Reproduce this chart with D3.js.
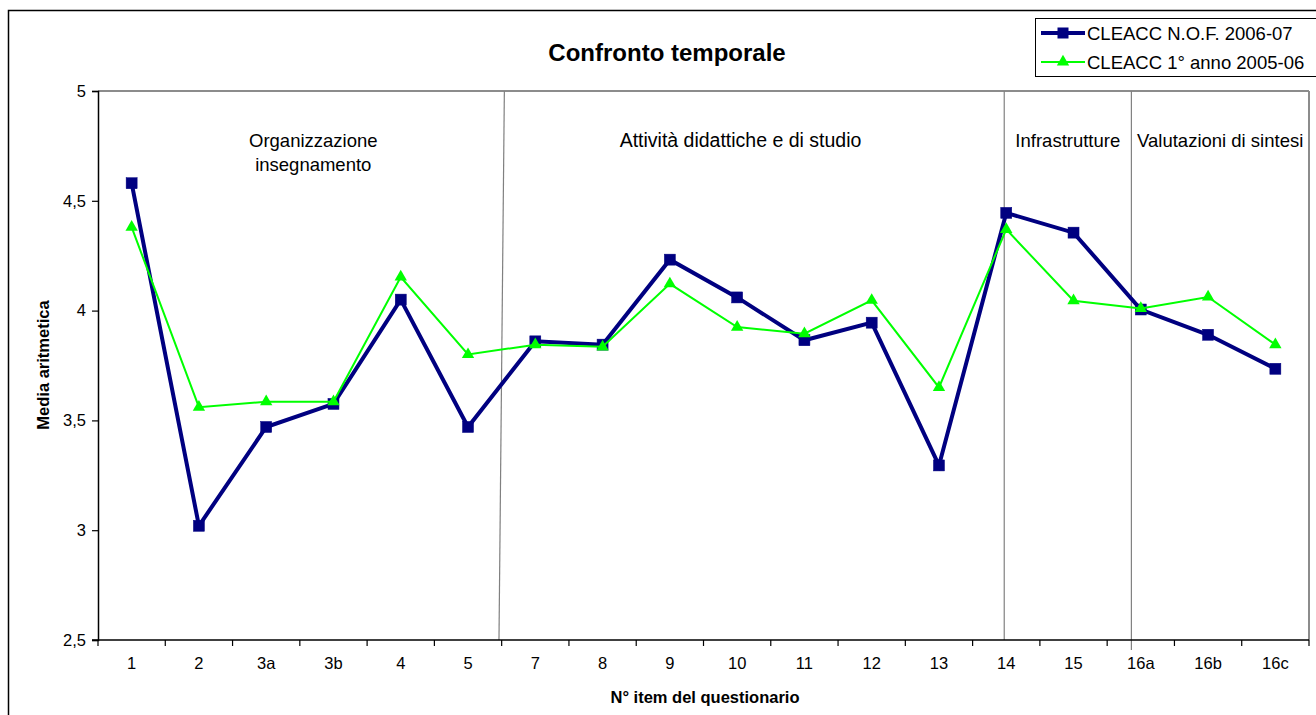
<!DOCTYPE html>
<html><head><meta charset="utf-8">
<script src="https://cdn.jsdelivr.net/npm/d3@7"></script>
<style>body{margin:0;background:#fff;overflow:hidden} svg{display:block;font-family:"Liberation Sans",Arial,sans-serif;}</style>
</head><body><svg id="c" width="1316" height="715"></svg>
<script>
const categories = ["1","2","3a","3b","4","5","7","8","9","10","11","12","13","14","15","16a","16b","16c"];
const seriesNames = ["CLEACC N.O.F. 2006-07","CLEACC 1° anno 2005-06"];
const valuesNOF  = [4.58,3.02,3.47,3.575,4.05,3.47,3.86,3.845,4.232,4.06,3.865,3.945,3.295,4.445,4.355,4.005,3.89,3.735];
const values0506 = [4.38,3.56,3.585,3.585,4.153,3.80,3.845,3.835,4.122,3.925,3.895,4.047,3.65,4.37,4.045,4.01,4.062,3.845];
const yTicks = [2.5,3,3.5,4,4.5,5];
const sectionNames = [["Organizzazione","insegnamento"],["Attività didattiche e di studio"],["Infrastrutture"],["Valutazioni di sintesi"]];

const svg = d3.select("#c");
const W = 1316, H = 715;
const m = {left:98, right:1309, top:91, bottom:640};
const x = d3.scaleBand().domain(categories).range([m.left, m.right]).paddingInner(0).paddingOuter(0);
const y = d3.scaleLinear().domain([2.5,5]).range([m.bottom, m.top]);
const cx = c => x(c) + x.bandwidth()/2;
const bw = x.bandwidth();

svg.append("rect").attr("width",W).attr("height",H).attr("fill","#fff");
// outer chart border
svg.append("rect").attr("x",8.5).attr("y",10.5).attr("width",1400).attr("height",800)
  .attr("fill","none").attr("stroke","#000").attr("stroke-width",1.5);

// plot area frame (top & right gray)
svg.append("line").attr("x1",m.left).attr("x2",m.right).attr("y1",m.top).attr("y2",m.top).attr("stroke","#8c8c8c").attr("stroke-width",2);
svg.append("line").attr("x1",m.right).attr("x2",m.right).attr("y1",m.top).attr("y2",m.bottom).attr("stroke","#8c8c8c").attr("stroke-width",2);

// separators (drawn shapes)
const sepG = svg.append("g").attr("stroke","#808080").attr("stroke-width",1.2);
const s1t = x("7")+0.04*bw, s1b = x("7")-0.04*bw;
const s2 = x("14")+0.47*bw, s3 = x("16a")+0.36*bw;
sepG.append("line").attr("x1", s1t).attr("y1", m.top).attr("x2", s1b).attr("y2", m.bottom);
sepG.append("line").attr("x1", s2).attr("y1", m.top).attr("x2", s2).attr("y2", m.bottom);
sepG.append("line").attr("x1", s3).attr("y1", m.top).attr("x2", s3).attr("y2", m.bottom+10);

// axes
const yAxis = d3.axisLeft(y).tickValues(yTicks).tickSize(6).tickPadding(6)
  .tickFormat(d => String(d).replace(".",","));
const gy = svg.append("g").attr("transform",`translate(${m.left},0)`).call(yAxis);
gy.select(".domain").attr("stroke","#000").attr("stroke-width",1.5);
gy.selectAll(".tick line").attr("stroke","#000").attr("stroke-width",1.2);
gy.selectAll(".tick text").attr("font-size",16.5).attr("fill","#000").attr("font-family","Liberation Sans, Arial, sans-serif");

const gx = svg.append("g").attr("transform",`translate(0,${m.bottom})`);
gx.append("line").attr("x1",m.left-6).attr("x2",m.right).attr("stroke","#000").attr("stroke-width",1.5);
const bounds = categories.map(c => x(c)).concat([m.right]);
gx.selectAll("line.tk").data(bounds).join("line").attr("class","tk")
  .attr("x1",d=>d).attr("x2",d=>d).attr("y1",0).attr("y2",6).attr("stroke","#000").attr("stroke-width",1.2);
gx.selectAll("text").data(categories).join("text")
  .attr("x",d=>cx(d)).attr("y",29).attr("text-anchor","middle").attr("font-size",16.5).attr("fill","#000").text(d=>d);

// titles
svg.append("text").attr("x",667).attr("y",61).attr("text-anchor","middle").attr("font-size",24).attr("font-weight","bold").text("Confronto temporale");
svg.append("text").attr("x",705).attr("y",703).attr("text-anchor","middle").attr("font-size",16.5).attr("font-weight","bold").text("N° item del questionario");
svg.append("text").attr("transform","translate(49,365) rotate(-90)").attr("text-anchor","middle").attr("font-size",16.5).attr("font-weight","bold").text("Media aritmetica");

// section labels
const secX = [ x("3b")+0.2*bw, (x("10")+x("11"))/2 + bw*0.05, (s2+s3)/2, (s3+m.right)/2 ];
sectionNames.forEach((lines,i) => {
  const t = svg.append("text").attr("x",secX[i]).attr("y",147).attr("text-anchor","middle").attr("font-size",i===1?19.5:18.5).attr("fill","#000");
  lines.forEach((l,j) => t.append("tspan").attr("x",secX[i]).attr("dy", j===0?0:24).text(l));
});

// series
const line = d3.line().x((d,i)=>cx(categories[i])).y(d=>y(d));
const tri = d3.symbol().type(d3.symbolTriangle).size(66);

const g1 = svg.append("g");
g1.append("path").datum(valuesNOF).attr("d",line).attr("fill","none").attr("stroke","#000080").attr("stroke-width",4).attr("stroke-linejoin","miter");
g1.selectAll("rect").data(valuesNOF).join("rect")
  .attr("x",(d,i)=>cx(categories[i])-5.5).attr("y",d=>y(d)-5.5).attr("width",11).attr("height",11)
  .attr("fill","#000080").attr("stroke","#000080").attr("stroke-width",0.5);

const g2 = svg.append("g");
g2.append("path").datum(values0506).attr("d",line).attr("fill","none").attr("stroke","#00ff00").attr("stroke-width",2);
g2.selectAll("path.m").data(values0506).join("path").attr("class","m")
  .attr("d",tri).attr("transform",(d,i)=>`translate(${cx(categories[i])},${y(d)})`).attr("fill","#00ff00");

// legend
const lg = svg.append("g");
lg.append("rect").attr("x",1035.5).attr("y",18.5).attr("width",300).attr("height",58).attr("fill","#fff").attr("stroke","#000").attr("stroke-width",1);
const lgItems = [{name:seriesNames[0], col:"#000080", w:4, mk:"sq", yy:33},{name:seriesNames[1], col:"#00ff00", w:2, mk:"tri", yy:62}];
lgItems.forEach(it => {
  lg.append("line").attr("x1",1041).attr("x2",1085).attr("y1",it.yy).attr("y2",it.yy).attr("stroke",it.col).attr("stroke-width",it.w);
  if (it.mk==="sq") lg.append("rect").attr("x",1057.5).attr("y",it.yy-5.5).attr("width",11).attr("height",11).attr("fill",it.col);
  else lg.append("path").attr("d",tri).attr("transform",`translate(1063,${it.yy})`).attr("fill",it.col);
  lg.append("text").attr("x",1087).attr("y",it.yy+6.5).attr("font-size",18.5).attr("fill","#000").text(it.name);
});
</script></body></html>
